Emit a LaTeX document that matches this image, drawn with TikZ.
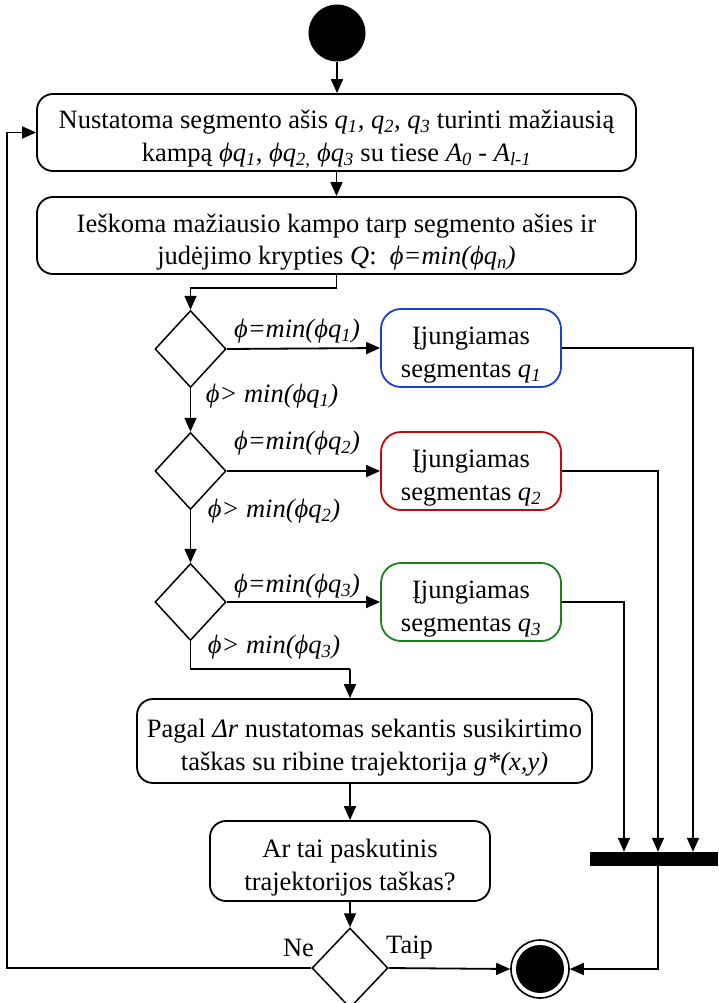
\documentclass[tikz,border=0pt]{standalone}
\usepackage{fontspec}
\setmainfont{Liberation Serif}
\usetikzlibrary{shapes.geometric,arrows.meta}
\newcommand\lo[1]{\textsubscript{#1}}
% raises the first line so that two-line texts sit a little lower in their boxes
\newcommand\topstrut{\rule{0pt}{32pt}}
\definecolor{qblue}{RGB}{25,65,205}
\definecolor{qred}{RGB}{190,10,10}
\definecolor{qgreen}{RGB}{25,130,25}
\begin{document}
\begin{tikzpicture}[x=1pt,y=-1pt,
  every node/.style={font=\fontsize{26.5}{32.5}\selectfont},
  act/.style={draw, line width=1.8pt, rounded corners=16pt, align=center, inner sep=0pt},
  seg/.style={act, rounded corners=20pt, minimum width=180pt, minimum height=78pt},
  dec/.style={diamond, draw, line width=1.5pt, inner sep=0pt, minimum width=71pt, minimum height=77pt},
  lbl/.style={inner sep=0pt},
  flow/.style={line width=1.8pt},
  arr/.style={flow, -{Triangle[length=14pt,width=12pt]}}]
\useasboundingbox (0,0) rectangle (718,1003);

% start and end
\node[circle, fill, inner sep=0pt, minimum size=57pt] (start) at (337,33) {};
\node[circle, draw, line width=1.6pt, inner sep=0pt, minimum size=58pt,
  path picture={\fill (path picture bounding box.center) circle (24pt);}] (endc) at (540,969) {};

% main actions
\node[act, minimum width=599pt, minimum height=77pt] (b1) at (336.5,132.5)
  {\topstrut Nustatoma segmento ašis \textit{q\lo{1}, q\lo{2}, q\lo{3}} turinti mažiausią\\
   kampą \textit{ϕq\lo{1}}, \textit{ϕq\lo{2,} ϕq\lo{3}} su tiese \textit{A\lo{0}} - \textit{A\lo{l-1}}};
\node[act, minimum width=599pt, minimum height=77pt] (b2) at (336.5,235.5)
  {\topstrut Ieškoma mažiausio kampo tarp segmento ašies ir\\
   judėjimo krypties \textit{Q}:\ \ \textit{ϕ=min(ϕq\lo{n})}};

% decisions and segment switches
\node[dec] (d1) at (190.5,349) {};
\node[dec] (d2) at (190.5,471) {};
\node[dec] (d3) at (190.5,602) {};
\node[seg, draw=qblue]  (q1) at (471,348) {\topstrut Įjungiamas\\segmentas \textit{q\lo{1}}};
\node[seg, draw=qred]   (q2) at (471,471) {\topstrut Įjungiamas\\segmentas \textit{q\lo{2}}};
\node[seg, draw=qgreen] (q3) at (471,602) {\topstrut Įjungiamas\\segmentas \textit{q\lo{3}}};

\node[lbl] (e1) at (297,331) {\textit{ϕ=min(ϕq\lo{1})}};
\node[lbl] (e2) at (297,443) {\textit{ϕ=min(ϕq\lo{2})}};
\node[lbl] (e3) at (297,586) {\textit{ϕ=min(ϕq\lo{3})}};
\node[lbl] (g1) at (272,396) {\textit{ϕ> min(ϕq\lo{1})}};
\node[lbl] (g2) at (274,511) {\textit{ϕ> min(ϕq\lo{2})}};
\node[lbl] (g3) at (274,647) {\textit{ϕ> min(ϕq\lo{3})}};

% lower actions
\node[act, minimum width=455pt, minimum height=84pt] (b4) at (364.5,741)
  {\topstrut Pagal \textit{Δr} nustatomas sekantis susikirtimo\\
   taškas su ribine trajektorija \textit{g*(x,y)}};
\node[act, minimum width=280pt, minimum height=80pt] (b5) at (350,861)
  {\topstrut Ar tai paskutinis\\trajektorijos taškas?};
\node[dec, minimum width=76pt, minimum height=80pt] (d4) at (350,968) {};
\node[lbl] (ne) at (298.5,948) {Ne};
\node[lbl] (taip) at (409.5,948) {Taip};

% synchronisation bar
\node[fill, inner sep=0pt, minimum width=128pt, minimum height=14pt] (bar) at (654,859) {};

\coordinate (j2) at (336.5,288);
\coordinate (j4) at (350,669);
\coordinate (fb) at (7,968);

% connectors
\draw[arr] (start.south) -- (start.south |- b1.north);
\draw[arr] (b1.south) -- (b2.north);
\draw[arr] (b2.south) -- (j2) -| (d1.north);
\draw[arr] (d1.east) -- (q1.west);
\draw[arr] (d2.east) -- (q2.west);
\draw[arr] (d3.east) -- (q3.west);
\draw[arr] (d1.south) -- (d2.north);
\draw[arr] (d2.south) -- (d3.north);
\draw[flow] (d3.south) |- (j4);
\draw[arr] (j4) -- (j4 |- b4.north);
\draw[arr] (b5.north |- b4.south) -- (b5.north);
\draw[arr] (b5.south) -- (d4.north);
\draw[arr] (d4.west) -- (fb) |- (b1.west);
\draw[arr] (d4.east) -- (endc.west);
\draw[arr] (q1.east) -| ([xshift=39pt]bar.north);
\draw[arr] (q2.east) -| ([xshift=4pt]bar.north);
\draw[arr] (q3.east) -| ([xshift=-30pt]bar.north);
\draw[arr] ([xshift=4pt]bar.south) |- (endc.east);
\end{tikzpicture}
\end{document}
